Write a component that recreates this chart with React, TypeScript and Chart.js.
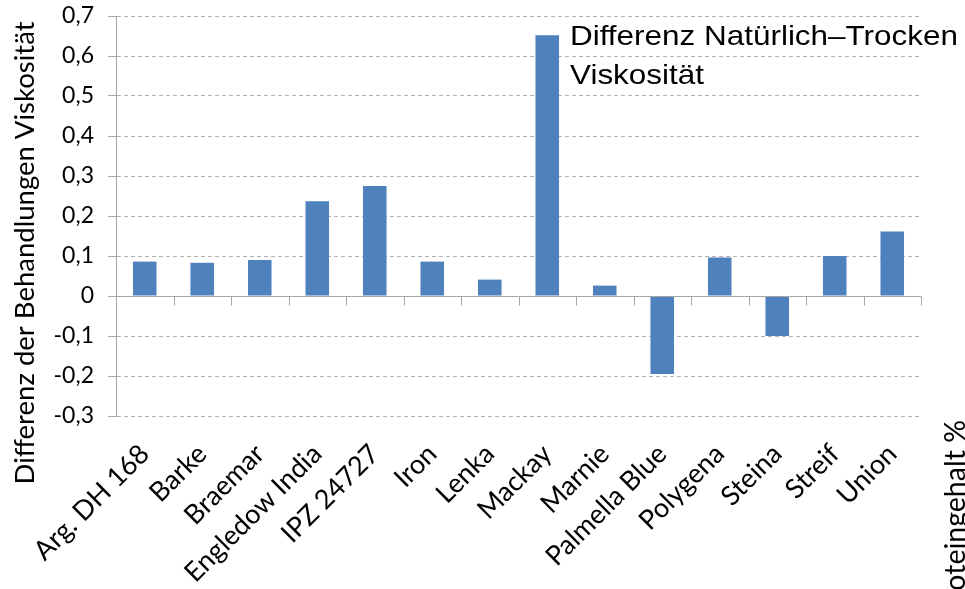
import React, { useEffect, useRef } from "react";
import { Chart, registerables } from "chart.js";

Chart.register(...registerables);

const categories = [
  "Arg. DH 168",
  "Barke",
  "Braemar",
  "Engledow India",
  "IPZ 24727",
  "Iron",
  "Lenka",
  "Mackay",
  "Marnie",
  "Palmella Blue",
  "Polygena",
  "Steina",
  "Streif",
  "Union",
];
const differenceValues = [
  0.086, 0.083, 0.09, 0.237, 0.275, 0.086, 0.041, 0.652, 0.026, -0.195, 0.096,
  -0.1, 0.1, 0.161,
];
const seriesLabel = ["Differenz Natürlich–Trocken", "Viskosität"];
const yTitle = "Differenz der Behandlungen Viskosität";
const y2Title = "Proteingehalt %";
const yMin = -0.3;
const yMax = 0.7;
const yStep = 0.1;

const FONT = "Lato, 'Open Sans', sans-serif";
const AXIS_GRAY = "#a6a6a6";

const decorPlugin = {
  id: "decor",
  afterDatasetsDraw(chart: any) {
    const { ctx, chartArea, scales } = chart;
    const y = scales.y;
    const y0 = Math.round(y.getPixelForValue(0)) + 0.5;
    ctx.save();
    ctx.strokeStyle = AXIS_GRAY;
    ctx.lineWidth = 1;
    ctx.setLineDash([]);
    ctx.beginPath();
    ctx.moveTo(chartArea.left, y0);
    ctx.lineTo(chartArea.right, y0);
    const n = categories.length;
    const w = (chartArea.right - chartArea.left) / n;
    for (let i = 1; i <= n; i++) {
      const px = Math.round(chartArea.left + i * w) + 0.5;
      ctx.moveTo(px, y0);
      ctx.lineTo(px, y0 + 9);
    }
    ctx.stroke();
    ctx.restore();
  },
  afterDraw(chart: any) {
    const { ctx } = chart;
    ctx.save();
    ctx.fillStyle = "#000";
    ctx.textAlign = "left";
    ctx.textBaseline = "alphabetic";

    // series label (legend-like text), slightly wide face
    ctx.font = "28px 'Liberation Sans', Arial, sans-serif";
    const targetW = 388;
    const natW = ctx.measureText(seriesLabel[0]).width;
    const sx = natW > 0 ? targetW / natW : 1;
    ctx.save();
    ctx.translate(570, 0);
    ctx.scale(sx, 1);
    ctx.fillText(seriesLabel[0], 0, 45);
    ctx.fillText(seriesLabel[1], 0, 84);
    ctx.restore();

    // left axis title
    ctx.font = `27.5px ${FONT}`;
    ctx.save();
    ctx.translate(34, 253);
    ctx.rotate(-Math.PI / 2);
    ctx.textAlign = "center";
    ctx.fillText(yTitle, 0, 0);
    ctx.restore();

    // right axis title (clipped at bottom)
    ctx.font = `28.5px ${FONT}`;
    ctx.save();
    ctx.translate(965, 420);
    ctx.rotate(-Math.PI / 2);
    ctx.textAlign = "right";
    ctx.fillText(y2Title, 0, 0);
    ctx.restore();
    ctx.restore();
  },
};

export default function App() {
  const canvasRef = useRef<HTMLCanvasElement | null>(null);

  useEffect(() => {
    document.body.style.margin = "0";
    const canvas = canvasRef.current;
    if (!canvas) return;
    const chart = new Chart(canvas, {
      type: "bar",
      data: {
        labels: categories,
        datasets: [
          {
            label: seriesLabel.join(" "),
            data: differenceValues,
            backgroundColor: "#4f81bd",
            borderWidth: 0,
            barPercentage: 0.41,
            categoryPercentage: 1,
          },
        ],
      },
      options: {
        animation: false,
        responsive: false,
        devicePixelRatio: 1,
        layout: { padding: { left: 0, top: 16, right: 44, bottom: 0 } },
        plugins: {
          legend: { display: false },
          tooltip: { enabled: false },
          title: { display: false },
        },
        scales: {
          x: {
            grid: { display: false },
            border: { display: false },
            ticks: {
              autoSkip: false,
              maxRotation: 45,
              minRotation: 45,
              color: "#000",
              font: { family: FONT, size: 27 },
              padding: 14,
            },
            afterFit: (s: any) => {
              s.height = 589 - 416;
              s.paddingTop = 0;
            },
          },
          y: {
            min: yMin,
            max: yMax,
            border: { display: true, color: AXIS_GRAY, width: 1, dash: [4, 3] },
            grid: {
              color: (c: any) =>
                c.tick && Math.abs(c.tick.value) < 1e-9 ? "rgba(0,0,0,0)" : "#b3b3b3",
              lineWidth: 1,
              drawTicks: true,
              tickLength: 8,
              tickColor: AXIS_GRAY,
            },
            ticks: {
              stepSize: yStep,
              color: "#000",
              font: { family: FONT, size: 23 },
              padding: 14,
              callback: (v: any) => {
                const r = Math.round(Number(v) * 10) / 10;
                if (r === 0) return "0";
                return r.toFixed(1).replace(".", ",");
              },
            },
            afterFit: (s: any) => {
              s.width = 116;
              s.paddingTop = 0;
              s.paddingBottom = 0;
            },
          },
        },
      },
      plugins: [decorPlugin],
    });
    return () => chart.destroy();
  }, []);

  return (
    <div style={{ width: 965, height: 589, background: "#fff" }}>
      <canvas ref={canvasRef} width={965} height={589} />
    </div>
  );
}
